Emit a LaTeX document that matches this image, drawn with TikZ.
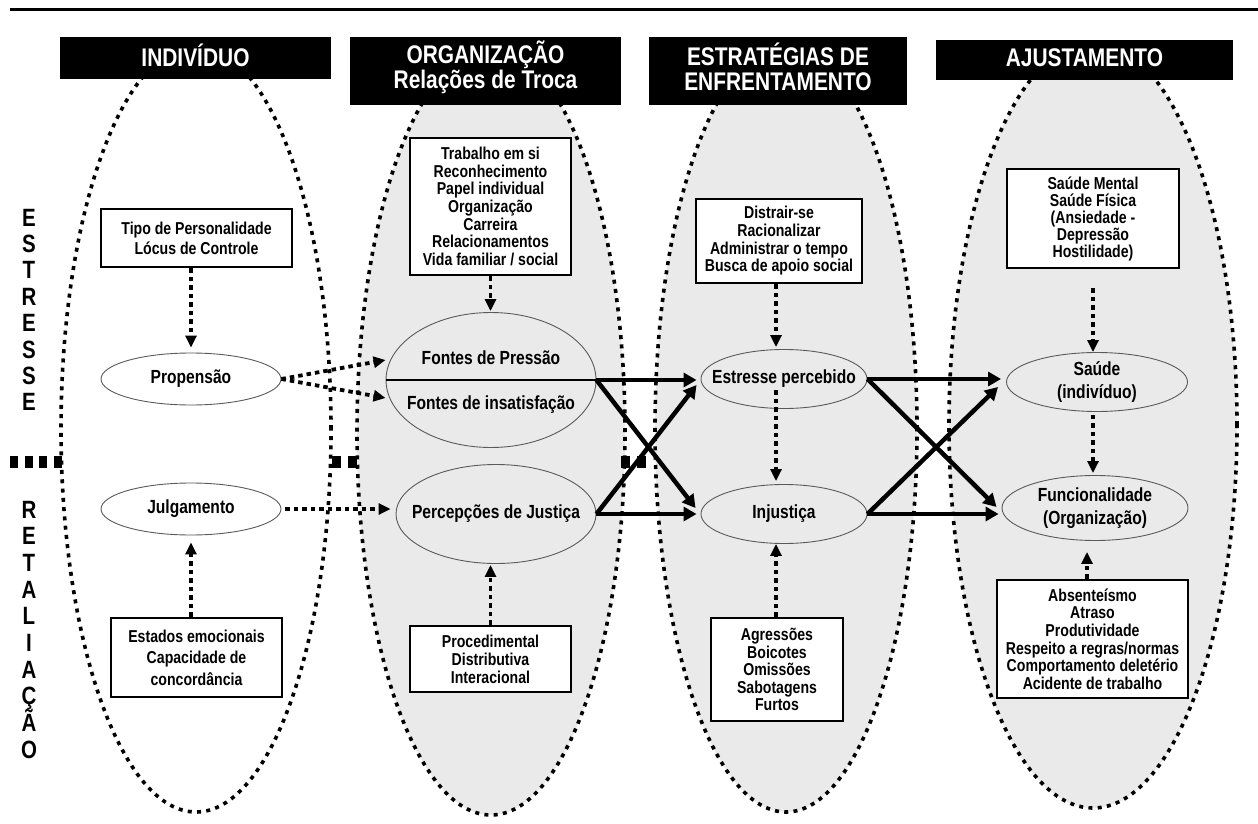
\documentclass[tikz,border=0pt]{standalone}
\usepackage{fontspec}
\setmainfont{Liberation Sans}[FakeStretch=0.82]
\usetikzlibrary{shapes.geometric,arrows.meta,calc}
\definecolor{bg}{RGB}{234,234,234}
\definecolor{ell}{RGB}{90,90,90}
\begin{document}
\begin{tikzpicture}[x=1pt,y=-1pt,
  bigell/.style={ellipse, draw=black, line width=3.6pt, dash pattern=on 4pt off 5.3pt, inner sep=0pt},
  hdr/.style={rectangle, fill=black, inner sep=0pt},
  hdrtxt/.style={text=white, font=\fontsize{25.5}{25}\selectfont\bfseries, align=center, inner sep=0pt},
  box/.style={rectangle, draw=black, fill=white, line width=2.6pt, inner sep=0pt, align=center},
  sell/.style={ellipse, draw=ell, line width=0.9pt, inner sep=0pt},
  etxt/.style={font=\fontsize{19}{23.5}\selectfont\bfseries, align=center, inner sep=0pt},
  dotarrow/.style={line width=3.8pt, dash pattern=on 4.5pt off 4pt, -{Triangle[length=12pt,width=11pt]}},
  solarrow/.style={line width=4.5pt, -{Triangle[length=13pt,width=14pt]}},
  letter/.style={font=\fontsize{25}{25}\selectfont\bfseries, anchor=base, inner sep=0pt}
]
\useasboundingbox (0,0) rectangle (1258,824);
\fill[white] (0,0) rectangle (1258,824);
% top rule
\draw[line width=3pt] (10,10) -- (1258,10);

% big ellipses
\node[bigell, fill=white, minimum width=270pt, minimum height=766pt] (E1) at (196,429) {};
\node[bigell, fill=bg, minimum width=268pt, minimum height=766pt] (E2) at (491,432) {};
\node[bigell, fill=bg, minimum width=262pt, minimum height=766pt] (E3) at (786,429) {};
\node[bigell, fill=bg, minimum width=288pt, minimum height=766pt] (E4) at (1093,425) {};

% divider
\draw[line width=12pt, dash pattern=on 8pt off 6.5pt] (10,462) -- (62,462);
\draw[line width=12pt, dash pattern=on 8.5pt off 7.5pt] (332,462) -- (357,462);
\draw[line width=12pt, dash pattern=on 8.5pt off 7.5pt] (621,462) -- (646,462);

% headers
\node[hdr, minimum width=271pt, minimum height=42pt, label={[hdrtxt, yshift=3pt]center:INDIVÍDUO}] (h1) at (195.5,58) {};
\node[hdr, minimum width=271pt, minimum height=68pt, label={[hdrtxt, yshift=4pt]center:{ORGANIZAÇÃO\\Relações de Troca}}] (h2) at (485.5,71) {};
\node[hdr, minimum width=258pt, minimum height=68pt, label={[hdrtxt, yshift=4pt]center:{ESTRATÉGIAS DE\\ENFRENTAMENTO}}] (h3) at (778,71) {};
\node[hdr, minimum width=297pt, minimum height=40pt, label={[hdrtxt, yshift=2pt]center:AJUSTAMENTO}] (h4) at (1084.5,60) {};

% side letters
\foreach \ch [count=\i] in {E,S,T,R,E,S,S,E}
  \node[letter] (s\i) at (29,{217+(\i-1)*26.4+9}) {\ch};
\foreach \ch [count=\i] in {R,E,T,A,L,I,A,Ç,Ã,O}
  \node[letter] (r\i) at (29,{509+(\i-1)*26.67+9}) {\ch};

% boxes
\node[box, minimum width=191pt, minimum height=58pt, font=\fontsize{17.2}{20}\selectfont\bfseries] (tipo) at (196.5,238) {Tipo de Personalidade\\Lócus de Controle};
\node[box, minimum width=161pt, minimum height=137pt, font=\fontsize{17.2}{17.6}\selectfont\bfseries] (trab) at (490.5,206.5) {Trabalho em si\\Reconhecimento\\Papel individual\\Organização\\Carreira\\Relacionamentos\\Vida familiar / social};
\node[box, minimum width=166pt, minimum height=84pt, font=\fontsize{17.2}{17.7}\selectfont\bfseries] (distr) at (779,241) {Distrair-se\\Racionalizar\\Administrar o tempo\\Busca de apoio social};
\node[box, minimum width=172pt, minimum height=99pt, font=\fontsize{17.2}{17}\selectfont\bfseries] (saudem) at (1093,218.5) {Saúde Mental\\Saúde Física\\(Ansiedade -\\Depressão\\Hostilidade)};
\node[box, minimum width=171pt, minimum height=79pt, font=\fontsize{17.2}{21.5}\selectfont\bfseries] (estados) at (196.5,657.5) {Estados emocionais\\Capacidade de\\concordância};
\node[box, minimum width=161pt, minimum height=66pt, font=\fontsize{17.2}{18}\selectfont\bfseries] (proc) at (490.5,659) {Procedimental\\Distributiva\\Interacional};
\node[box, minimum width=132pt, minimum height=103pt, font=\fontsize{17.2}{17.5}\selectfont\bfseries] (agr) at (777,669.5) {Agressões\\Boicotes\\Omissões\\Sabotagens\\Furtos};
\node[box, minimum width=191pt, minimum height=118pt, font=\fontsize{17.2}{17.6}\selectfont\bfseries] (abs) at (1092.5,639) {Absenteísmo\\Atraso\\Produtividade\\Respeito a regras/normas\\Comportamento deletério\\Acidente de trabalho};

% small ellipses
\node[sell, fill=white, minimum width=180pt, minimum height=52pt, label={[etxt]center:Propensão}] (prop) at (191,379) {};
\node[sell, fill=white, minimum width=180pt, minimum height=52pt, label={[etxt]center:Julgamento}] (julg) at (191,509) {};
\node[sell, fill=bg, minimum width=210pt, minimum height=135pt] (fontes) at (491,380) {};
\node[etxt] (fp) at (491,358) {Fontes de Pressão};
\node[etxt] (fi) at (491,405) {Fontes de insatisfação};
\draw[line width=2pt] (fontes.west) -- (fontes.east);
\node[sell, fill=bg, minimum width=200pt, minimum height=99pt, label={[etxt]center:Percepções de Justiça}] (perc) at (496,514) {};
\node[sell, fill=bg, minimum width=166pt, minimum height=59pt, label={[etxt]center:Estresse percebido}] (estr) at (784,379) {};
\node[sell, fill=bg, minimum width=166pt, minimum height=59pt, label={[etxt]center:Injustiça}] (inj) at (784,514) {};
\node[sell, fill=bg, minimum width=181pt, minimum height=59pt, label={[etxt]center:{Saúde\\(indivíduo)}}] (saude) at (1097,382) {};
\node[sell, fill=bg, minimum width=186pt, minimum height=65pt, label={[etxt]center:{Funcionalidade\\(Organização)}}] (func) at (1095,508) {};

% helper coordinates
\coordinate (dA) at ($(distr.south)+(-3,0)$);
\coordinate (eA) at ($(estr.center)+(-8,11)$);
\coordinate (iA) at ($(inj.north)+(-8,-3)$);
\coordinate (gA) at ($(agr.north)+(-1,0)$);
\coordinate (bA) at ($(abs.north)+(-5.5,0)$);

% dotted connectors
\draw[dotarrow, shorten >=5pt] (tipo.south -| prop.north) -- (prop.north);
\draw[dotarrow] (prop.east) -- ($(fontes.west)+(0,-20)$);
\draw[dotarrow] (prop.east) -- ($(fontes.west)+(0,18)$);
\draw[dotarrow, shorten >=1pt] (trab.south) -- (trab.south |- fontes.north);
\draw[dotarrow, shorten <=4pt, shorten >=5pt] (julg.east) -- (julg.east -| perc.west);
\draw[dotarrow, shorten >=7pt] (estados.north -| julg.south) -- (julg.south);
\draw[dotarrow, shorten >=1pt] (proc.north) -- (proc.north |- perc.south);
\draw[dotarrow, shorten >=2pt] (dA) -- (dA |- estr.north);
\draw[dotarrow] (eA) -- (iA);
\draw[dotarrow] (gA) -- (gA |- inj.south);
\draw[dotarrow, shorten <=19pt] (saudem.south) -- (saudem.south |- saude.north);
\draw[dotarrow, shorten <=3pt, shorten >=2pt] (saude.south -| saudem.south) -- (saudem.south |- func.north);
\draw[dotarrow, shorten >=11pt] (bA) -- (bA |- func.south);

% solid arrows
\draw[solarrow, shorten >=4pt] (fontes.east) -- (fontes.east -| estr.west);
\draw[solarrow] (fontes.east) -- ($(inj.west)+(-5,-6)$);
\draw[solarrow, shorten >=4pt] (perc.east) -- (perc.east -| inj.west);
\draw[solarrow] (perc.east) -- ($(estr.west)+(-4,6)$);
\draw[solarrow, shorten >=5pt] (estr.east) -- (estr.east -| saude.west);
\draw[solarrow] (estr.east) -- ($(func.west)+(-5,-1)$);
\draw[solarrow, shorten >=3pt] (inj.east) -- (inj.east -| func.west);
\draw[solarrow] (inj.east) -- ($(saude.west)+(-8,5)$);
\end{tikzpicture}
\end{document}
